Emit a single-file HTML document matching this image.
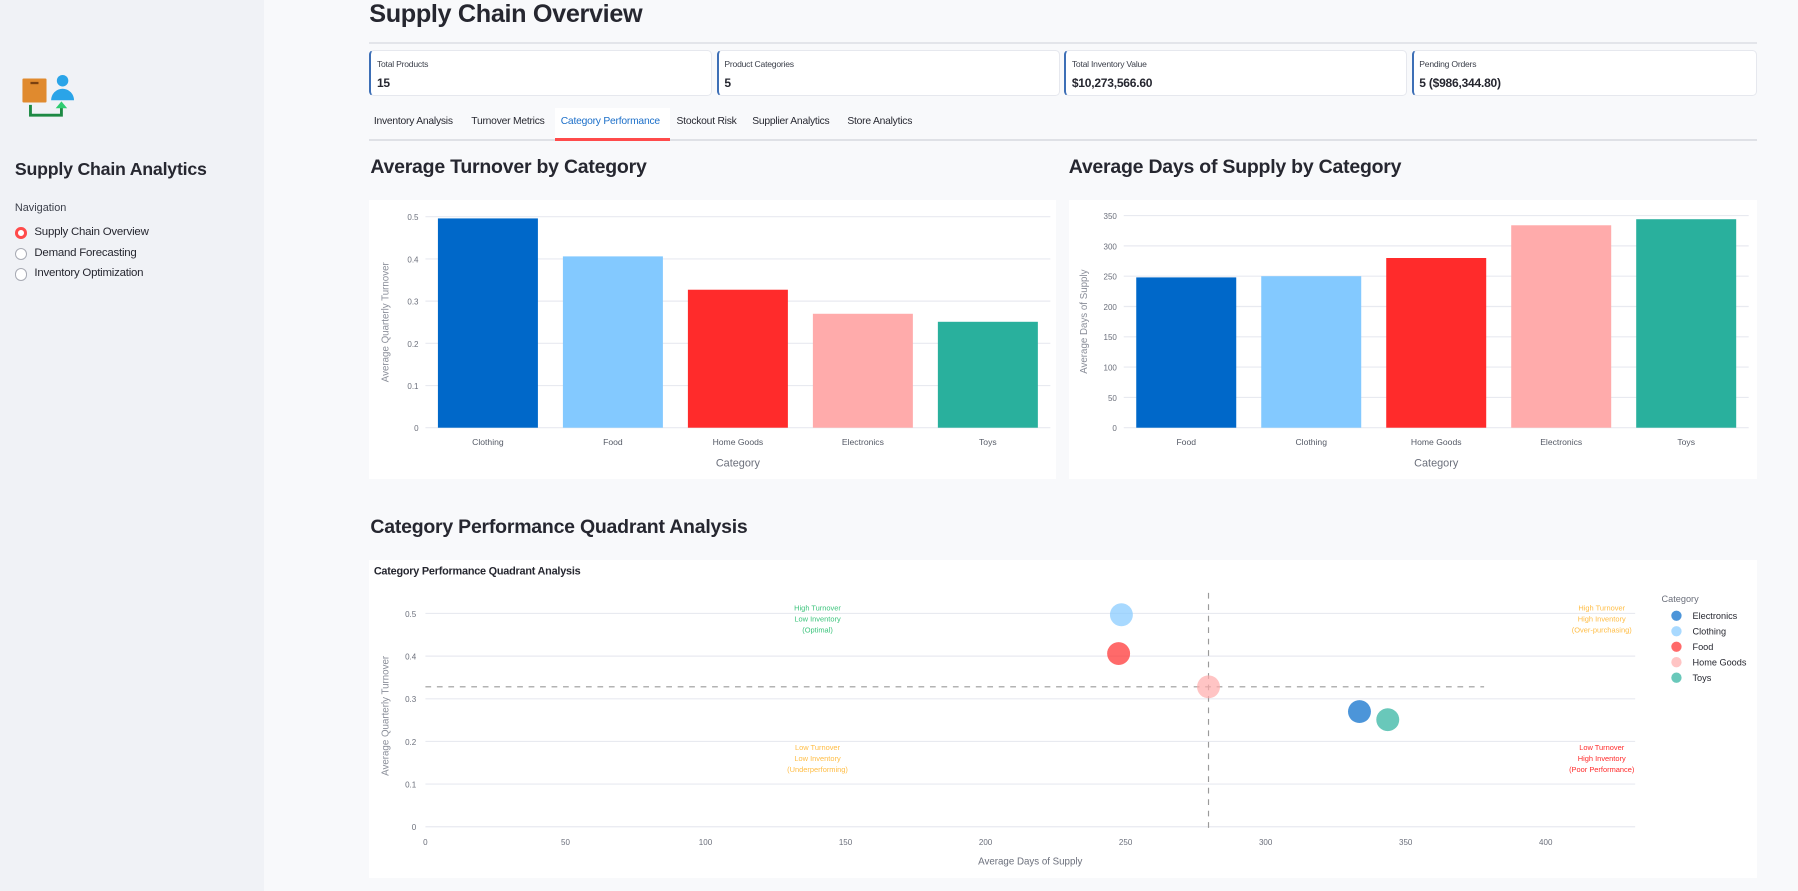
<!DOCTYPE html>
<html><head><meta charset="utf-8">
<style>
html{zoom:1.14668}
body{margin:0;width:1568px;height:777px;overflow:hidden;background:#f8f9fb;font-family:"Liberation Sans",sans-serif;color:#262730;position:relative}
.abs{position:absolute}
#sidebar{left:0;top:0;width:230px;height:777px;background:#f0f2f6}
.card{position:absolute;top:44px;height:40px;width:299px;background:#fff;border:1px solid #e6e8ee;border-left:2px solid #3d6fb6;border-radius:4px;box-sizing:border-box}
.card .l{position:absolute;left:5px;top:7px;font-size:7.5px;color:#3b3f4a;letter-spacing:-0.2px}
.card .v{position:absolute;left:5px;top:21px;font-size:10.5px;font-weight:bold;letter-spacing:-0.2px}
.tab{position:absolute;top:101px;font-size:9px;color:#262730;letter-spacing:-0.2px}
h2{position:absolute;margin:0;font-size:17px;font-weight:600;color:#262730;letter-spacing:-0.2px}
.box{position:absolute;background:#fff}
svg text{font-family:"Liberation Sans",sans-serif}
.radio{position:absolute;left:13px;width:9px;height:9px;border-radius:50%;border:1px solid #a8abb4;background:#fff}
.nav{position:absolute;left:30px;font-size:10px;letter-spacing:-0.2px}
</style></head><body>
<div id="sidebar" class="abs">
  <svg class="abs" style="left:17px;top:65px" width="50" height="40">
    <rect x="3" y="3" width="21" height="21" fill="#e08a2e" rx="1"/><rect x="10" y="6" width="7" height="2" fill="#7a4010"/>
    <circle cx="38" cy="5" r="5" fill="#2aa4e8"/><path d="M28 22 a10 10 0 0 1 20 0 z" fill="#2aa4e8"/>
    <path d="M10 26 v9 h27 v-7" stroke="#1d8a44" stroke-width="2.5" fill="none"/><path d="M32 29 l5 -6 l5 6 z" fill="#2ecc71"/>
  </svg>
  <div class="abs" style="left:13px;top:139px;font-size:15.5px;font-weight:600;letter-spacing:-0.2px">Supply Chain Analytics</div>
  <div class="abs" style="left:13px;top:176px;font-size:9.5px;color:#3b3f4a">Navigation</div>
  <div class="radio" style="top:198px;border:3px solid #ff4b4b;width:5px;height:5px"></div>
  <div class="nav" style="top:197px">Supply Chain Overview</div>
  <div class="radio" style="top:216px"></div>
  <div class="nav" style="top:215px">Demand Forecasting</div>
  <div class="radio" style="top:234px"></div>
  <div class="nav" style="top:233px">Inventory Optimization</div>
</div>

<div class="abs" style="left:322px;top:0px;font-size:22px;font-weight:600;letter-spacing:-0.3px">Supply Chain Overview</div>
<div class="abs" style="left:322px;top:37px;width:1210px;height:1px;background:#e3e5ea"></div>

<div class="card" style="left:322px"><div class="l">Total Products</div><div class="v">15</div></div>
<div class="card" style="left:625px"><div class="l">Product Categories</div><div class="v">5</div></div>
<div class="card" style="left:928px"><div class="l">Total Inventory Value</div><div class="v">$10,273,566.60</div></div>
<div class="card" style="left:1231px;width:301px"><div class="l">Pending Orders</div><div class="v">5 ($986,344.80)</div></div>

<div class="abs" style="left:484px;top:94px;width:100px;height:27px;background:#fff"></div>
<div class="tab" style="left:326px">Inventory Analysis</div>
<div class="tab" style="left:411px">Turnover Metrics</div>
<div class="tab" style="left:489px;color:#1c6fc9">Category Performance</div>
<div class="tab" style="left:590px">Stockout Risk</div>
<div class="tab" style="left:656px">Supplier Analytics</div>
<div class="tab" style="left:739px">Store Analytics</div>
<div class="abs" style="left:322px;top:121px;width:1210px;height:2px;background:#dfe1e6"></div>
<div class="abs" style="left:484px;top:120px;width:100px;height:3px;background:#ff4b4b"></div>

<h2 style="left:323px;top:136px">Average Turnover by Category</h2>
<h2 style="left:932px;top:136px">Average Days of Supply by Category</h2>
<h2 style="left:323px;top:450px">Category Performance Quadrant Analysis</h2>

<div class="box" style="left:322px;top:174px;width:599px;height:244px"></div>
<div class="box" style="left:932px;top:174px;width:600px;height:244px"></div>
<div class="box" style="left:322px;top:488px;width:1210px;height:278px"></div>

<svg id="chart" class="abs" style="left:0;top:0" width="1568" height="777"></svg>

<script>
const turnCats=["Clothing","Food","Home Goods","Electronics","Toys"];
const turnVals=[0.496,0.406,0.327,0.270,0.251];
const turnColors=["#0068c9","#83c9ff","#ff2b2b","#ffabab","#29b09d"];
const turnTicks=[0,0.1,0.2,0.3,0.4,0.5];

const daysCats=["Food","Clothing","Home Goods","Electronics","Toys"];
const daysVals=[248,250,280,334,344];
const daysColors=["#0068c9","#83c9ff","#ff2b2b","#ffabab","#29b09d"];
const daysTicks=[0,50,100,150,200,250,300,350];

const scCats=["Electronics","Clothing","Food","Home Goods","Toys"];
const scDays=[333.5,248.5,247.5,279.6,343.6];
const scTurn=[0.270,0.497,0.406,0.328,0.251];
const scColors=["#0068c9","#83c9ff","#ff2b2b","#ffabab","#29b09d"];
const scXTicks=[0,50,100,150,200,250,300,350,400];
const scYTicks=[0,0.1,0.2,0.3,0.4,0.5];
const meanDays=279.6, meanTurn=0.328;

const NS="http://www.w3.org/2000/svg";
const svg=document.getElementById('chart');
function mk(tag,attrs,parent){const e=document.createElementNS(NS,tag);for(const k in attrs)e.setAttribute(k,attrs[k]);(parent||svg).appendChild(e);return e;}
function txt(x,y,s,attrs){const e=mk('text',Object.assign({x:x,y:y},attrs));e.textContent=s;return e;}

function barChart(cats,vals,colors,ticks,x0,x1,yBase,yTop,tmax,ytitle,prefix){
  const ys=v=>yBase-(v/tmax)*(yBase-yTop);
  ticks.forEach(t=>{
    const g=mk('line',{x1:x0,x2:x1,y1:ys(t),y2:ys(t),stroke:'#e8eaf0','stroke-width':1});
    
    
    const l=txt(x0-6,ys(t)+3,String(t),{'font-size':7,fill:'#6b6f7b','text-anchor':'end'});
    
    
  });
  const band=(x1-x0)/cats.length, bw=band*0.8;
  cats.forEach((c,i)=>{
    const cx=x0+band*(i+0.5);
    const r=mk('rect',{x:cx-bw/2,y:ys(vals[i]),width:bw,height:yBase-ys(vals[i]),fill:colors[i]});
    
    
    const l=txt(cx,yBase+15,c,{'font-size':7.5,fill:'#555a66','text-anchor':'middle'});
    
    
  });
  const xt=txt((x0+x1)/2,yBase+34,'Category',{'font-size':9.5,fill:'#6b6f7b','text-anchor':'middle'});
  
  
  const yc=(yBase+yTop)/2, yx=x0-32;
  const yt=txt(yx,yc,ytitle,{'font-size':8.5,fill:'#8a8e99','text-anchor':'middle',transform:`rotate(-90 ${yx} ${yc})`});
  
  
}
barChart(turnCats,turnVals,turnColors,turnTicks,371,916,373,189,0.5,'Average Quarterly Turnover','turnover');
barChart(daysCats,daysVals,daysColors,daysTicks,980,1525,373,188,350,'Average Days of Supply','days');

// scatter
const SX0=371,SX1=1426,SY0=721,SY5=535;
const sx=v=>SX0+v*(1348-371)/400;
const sy=v=>SY0-v*(SY0-SY5)/0.5;
const st=txt(326,501,'Category Performance Quadrant Analysis',{'font-size':9.5,'font-weight':'bold',fill:'#262730','letter-spacing':'-0.2'});


scYTicks.forEach(t=>{
  const g=mk('line',{x1:SX0,x2:SX1,y1:sy(t),y2:sy(t),stroke:'#e8eaf0','stroke-width':1});
  
  
  const l=txt(SX0-8,sy(t)+3,String(t),{'font-size':7,fill:'#6b6f7b','text-anchor':'end'});
  
  
});
scXTicks.forEach(t=>{
  const l=txt(sx(t),SY0+16,String(t),{'font-size':7,fill:'#6b6f7b','text-anchor':'middle'});
  
  
});
const qx=txt((SX0+SX1)/2,SY0+33,'Average Days of Supply',{'font-size':8.5,fill:'#6b6f7b','text-anchor':'middle'});


const qyc=(SY0+sy(0.52))/2;
const qy=txt(339,qyc,'Average Quarterly Turnover',{'font-size':8.5,fill:'#8a8e99','text-anchor':'middle',transform:`rotate(-90 339 ${qyc})`});


const hl=mk('line',{x1:SX0,x2:sx(378),y1:sy(meanTurn),y2:sy(meanTurn),stroke:'#9a9a9a','stroke-width':1,'stroke-dasharray':'5,5'});


const vl=mk('line',{x1:sx(meanDays),x2:sx(meanDays),y1:517,y2:SY0+4,stroke:'#9a9a9a','stroke-width':1,'stroke-dasharray':'5,5'});


scCats.forEach((c,i)=>{
  const p=mk('circle',{cx:sx(scDays[i]),cy:sy(scTurn[i]),r:10,fill:scColors[i],'fill-opacity':0.7});
  
  
});
const notes=[[140,0.515,'#3cc47c',['High Turnover','Low Inventory','(Optimal)']],
             [420,0.515,'#ffbd45',['High Turnover','High Inventory','(Over-purchasing)']],
             [140,0.188,'#ffbd45',['Low Turnover','Low Inventory','(Underperforming)']],
             [420,0.188,'#ff2b2b',['Low Turnover','High Inventory','(Poor Performance)']]];
notes.forEach(n=>{
  n[3].forEach((s,k)=>{
    const t=txt(sx(n[0]),sy(n[1])+3+k*9.5,s,{'font-size':6.5,fill:n[2],'text-anchor':'middle'});
    
    
  });
});
const lt=txt(1449,525,'Category',{'font-size':8,fill:'#6b6f7b'});


scCats.forEach((c,i)=>{
  const y=537+i*13.5;
  const d=mk('circle',{cx:1462,cy:y,r:4.5,fill:scColors[i],'fill-opacity':0.7});
  
  
  const l=txt(1476,y+3,c,{'font-size':8,fill:'#262730'});
  
  
});
</script>
</body></html>
